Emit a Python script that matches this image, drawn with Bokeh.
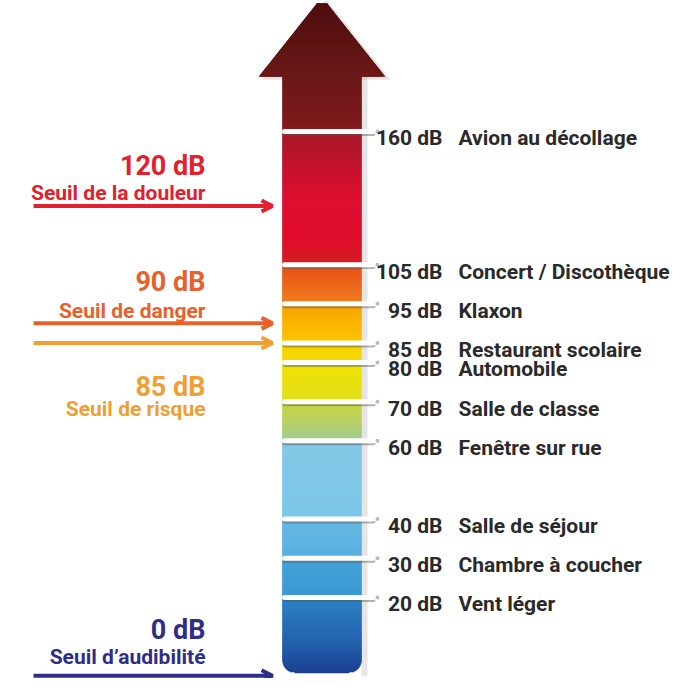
import numpy as np
from bokeh.plotting import figure
from bokeh.models import Range1d, Arrow, OpenHead
from bokeh.core.properties import value
from bokeh.embed import file_html
from bokeh.resources import INLINE

# ---------------- data ----------------
tick_db = [160, 105, 95, 85, 80, 70, 60, 40, 30, 20]
# position of each tick on the scale (the 160 dB tick is drawn on a compressed top)
tick_pos = [139, 105, 95, 85, 80, 70, 60, 40, 30, 20]
tick_desc = ["Avion au décollage", "Concert / Discothèque", "Klaxon",
             "Restaurant scolaire", "Automobile", "Salle de classe",
             "Fenêtre sur rue", "Salle de séjour", "Chambre à coucher",
             "Vent léger"]

thr_db = [120, 90, 85, 0]
thr_name = ["Seuil de la douleur", "Seuil de danger", "Seuil de risque",
            "Seuil d\u2019audibilité"]

# colour stops of the scale (position in dB, colour)
grad_pos = [153, 140.5, 138.5, 122, 112, 105.6, 104.4, 95.6, 94.4, 85.6, 84.4,
            80.6, 79.4, 70.6, 69.4, 60.6, 59.4, 40.6, 39.4, 30.6, 29.4, 20.6,
            19.4, 8, 0]
grad_col = ["#6c1818", "#7e1a1c", "#a8182a", "#dc0e30", "#e00c2c", "#d41e22",
            "#e85018", "#f07c1c", "#f8a400", "#fcc400", "#f8d200", "#f6da00",
            "#f0e200", "#e2e01c", "#cad640", "#a4cc8c", "#84c8e6", "#7cc6e8",
            "#64b8e2", "#58b0e0", "#44a2d8", "#3a98d0", "#2c80c4", "#2460ac",
            "#1a3a8e"]

# ---------------- styles / layout ----------------
W, H = 674, 678
Y0, Y1 = -0.71, 172.47
UNIT = 3.963          # reference pixels per dB


def dpx(n):
    return n / UNIT


FONT = value("Roboto")
TXT = "#2a2a2a"
thr_color = ["#e2202e", "#e8602a", "#f0a032", "#2e2e88"]
big_off = [-40, -42, 45, -46]
small_off = [-13, -13, 67, -19]
BAR_L, BAR_R = 282, 361
HEAD_L, HEAD_R = 258, 385
HEAD_BASE = 153.0
HEAD_TIP = 173.4
HEAD_TOP = 171.7
BAR_BOT = 0.63
RADIUS = 12
TICK_R = 373
ARROW_X0, ARROW_X1 = 33, 272
LEFT_TEXT_R = 205
DB_TEXT_R = 442
DESC_L = 458


def hex2rgb(h):
    return np.array([int(h[i:i + 2], 16) for i in (1, 3, 5)], dtype=float)


def rgb2hex(c):
    return "#%02x%02x%02x" % tuple(int(round(v)) for v in c)


gp = np.array(grad_pos[::-1])
gc = np.array([hex2rgb(c) for c in grad_col[::-1]])


def col_at(y):
    return rgb2hex([np.interp(y, gp, gc[:, k]) for k in range(3)])


p = figure(width=W, height=H, x_range=Range1d(0, W), y_range=Range1d(Y0, Y1),
           output_backend="svg", toolbar_location=None, min_border=0,
           x_axis_location=None, y_axis_location=None)
p.grid.visible = False
p.outline_line_color = None
p.background_fill_color = "white"
p.border_fill_color = "white"

# ----- shadow -----
p.quad(left=[BAR_R], right=[BAR_R + 6], bottom=[BAR_BOT - dpx(3)], top=[HEAD_BASE],
       fill_color="#000000", fill_alpha=0.10, line_color=None)
p.patch(x=[HEAD_L + 4, (HEAD_L + HEAD_R) / 2 + 4, HEAD_R + 5],
        y=[HEAD_BASE - dpx(3), HEAD_TIP - dpx(2), HEAD_BASE - dpx(3)],
        fill_color="#000000", fill_alpha=0.10, line_color=None)

# ----- bar gradient strips (overlapping, drawn bottom to top) -----
step = dpx(1)
ys = np.arange(BAR_BOT, HEAD_BASE, step)
lefts, rights, bots, tops, cols = [], [], [], [], []
for y in ys:
    d = (y - BAR_BOT) * UNIT
    inset = 0.0
    if d < RADIUS:
        inset = RADIUS - np.sqrt(max(RADIUS ** 2 - (RADIUS - d) ** 2, 0))
    lefts.append(BAR_L + inset)
    rights.append(BAR_R - inset)
    bots.append(y)
    tops.append(min(y + step * 3, HEAD_BASE + step))
    cols.append(col_at(y + step / 2))
p.quad(left=lefts, right=rights, bottom=bots, top=tops, fill_color=cols,
       line_color=None)

# ----- arrow head -----
cx = (HEAD_L + HEAD_R) / 2
half = (HEAD_R - HEAD_L) / 2
ftop = (HEAD_TIP - HEAD_TOP) / (HEAD_TIP - HEAD_BASE)
p.patch(x=[HEAD_L, cx - half * ftop, cx + half * ftop, HEAD_R],
        y=[HEAD_BASE, HEAD_TOP, HEAD_TOP, HEAD_BASE],
        fill_color="#5c1212", line_color=None)
hy = np.arange(HEAD_BASE, HEAD_TOP, step)
hl, hr, hb, ht, hc = [], [], [], [], []
for y in hy:
    top = min(y + step * 3, HEAD_TOP)
    w = half * (HEAD_TIP - top) / (HEAD_TIP - HEAD_BASE)
    hl.append(cx - w)
    hr.append(cx + w)
    hb.append(y)
    ht.append(top)
    t = (y - HEAD_BASE) / (HEAD_TOP - HEAD_BASE)
    hc.append(rgb2hex(hex2rgb("#6c1818") * (1 - t) + hex2rgb("#4e0e0e") * t))
p.quad(left=hl, right=hr, bottom=hb, top=ht, fill_color=hc, line_color=None)

# ----- ticks -----
n = len(tick_pos)
p.segment(x0=[BAR_L + 2] * n, x1=[TICK_R] * n,
          y0=[t - dpx(2.5) for t in tick_pos], y1=[t - dpx(2.5) for t in tick_pos],
          line_color="#555555", line_alpha=0.45, line_width=4, line_cap="round")
p.segment(x0=[BAR_L + 2] * n, x1=[TICK_R] * n,
          y0=tick_pos, y1=tick_pos, line_color="white", line_width=5,
          line_cap="round")
p.scatter(x=[TICK_R + 4] * n, y=tick_pos, size=4,
          fill_color="#bbbbbb", line_color=None)

# ----- right labels -----
base_y = [t - dpx(7) for t in tick_pos]
p.text(x=[DB_TEXT_R] * n, y=base_y, text=[f"{v} dB" for v in tick_db],
       text_font=FONT, text_font_size="21px", text_font_style="bold",
       text_color=TXT, text_align="right", text_baseline="alphabetic")
p.text(x=[DESC_L] * n, y=base_y, text=tick_desc,
       text_font=FONT, text_font_size="21px", text_font_style="bold",
       text_color=TXT, text_align="left", text_baseline="alphabetic")

# ----- thresholds -----
for db, name, c, bo, so in zip(thr_db, thr_name, thr_color, big_off, small_off):
    p.add_layout(Arrow(end=OpenHead(size=11, line_color=c, line_width=4),
                       x_start=ARROW_X0, y_start=db, x_end=ARROW_X1, y_end=db,
                       line_color=c, line_width=4))
    p.text(x=[LEFT_TEXT_R], y=[db - dpx(bo)], text=[f"{db} dB"], text_font=FONT,
           text_font_size="27px", text_font_style="bold", text_color=c,
           text_align="right", text_baseline="alphabetic")
    p.text(x=[LEFT_TEXT_R], y=[db - dpx(so)], text=[name], text_font=FONT,
           text_font_size="21px", text_font_style="bold", text_color=c,
           text_align="right", text_baseline="alphabetic")

open("out.html", "w").write(file_html(p, INLINE))
